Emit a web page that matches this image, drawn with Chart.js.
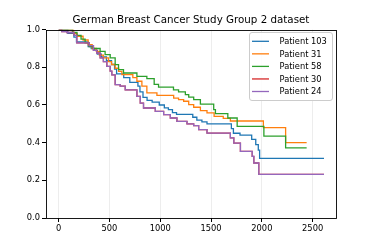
<!DOCTYPE html>
<html>
<head>
<meta charset="utf-8">
<script src="https://cdn.jsdelivr.net/npm/chart.js@4"></script>
<style>
  html, body { margin: 0; padding: 0; background: #fff; }
  #wrap { width: 374px; height: 249px; }
</style>
</head>
<body>
<div id="wrap"><canvas id="kmChart" width="374" height="249"></canvas></div>
<script>
// survival curves (time in days, survival probability)
var p103Time = [0, 90, 150, 175, 290, 320, 350, 380, 420, 470, 520, 550, 570, 640, 700, 780, 800, 830, 870, 920, 990, 1040, 1080, 1120, 1160, 1320, 1360, 1410, 1460, 1700, 1720, 1785, 1900, 1940, 1965, 1978, 2612];
var p103Surv = [1.0, 0.98, 0.96, 0.935, 0.91, 0.90, 0.89, 0.87, 0.855, 0.835, 0.815, 0.79, 0.765, 0.745, 0.72, 0.70, 0.67, 0.64, 0.625, 0.615, 0.60, 0.585, 0.575, 0.56, 0.55, 0.535, 0.52, 0.51, 0.50, 0.475, 0.45, 0.44, 0.417, 0.39, 0.36, 0.317, 0.317];

var p31Time = [0, 145, 180, 240, 290, 330, 370, 400, 440, 490, 520, 556, 590, 622, 730, 770, 819, 868, 967, 1132, 1180, 1230, 1280, 1329, 1395, 1460, 1530, 1620, 1690, 2015, 2234, 2441];
var p31Surv = [1.0, 0.98, 0.965, 0.945, 0.92, 0.90, 0.885, 0.865, 0.85, 0.83, 0.815, 0.795, 0.779, 0.761, 0.745, 0.726, 0.70, 0.664, 0.651, 0.637, 0.628, 0.62, 0.602, 0.588, 0.57, 0.558, 0.54, 0.529, 0.515, 0.48, 0.40, 0.40];

var p58Time = [0, 135, 180, 220, 260, 300, 340, 408, 457, 507, 556, 589, 638, 770, 868, 940, 983, 1130, 1180, 1247, 1280, 1329, 1395, 1526, 1543, 1665, 1757, 2020, 2234, 2441];
var p58Surv = [1.0, 0.985, 0.97, 0.95, 0.93, 0.91, 0.90, 0.885, 0.867, 0.85, 0.814, 0.788, 0.77, 0.752, 0.74, 0.71, 0.695, 0.68, 0.67, 0.655, 0.642, 0.628, 0.605, 0.575, 0.554, 0.531, 0.487, 0.435, 0.372, 0.372];

var p24Time = [0, 30, 80, 150, 178, 300, 342, 375, 408, 440, 474, 507, 523, 556, 605, 655, 770, 803, 835, 951, 1033, 1099, 1164, 1263, 1329, 1378, 1460, 1690, 1724, 1789, 1905, 1921, 1970, 2612];
var p24Surv = [1.0, 0.99, 0.985, 0.97, 0.93, 0.915, 0.89, 0.876, 0.85, 0.83, 0.805, 0.78, 0.76, 0.708, 0.70, 0.68, 0.646, 0.61, 0.584, 0.566, 0.549, 0.531, 0.513, 0.50, 0.49, 0.469, 0.451, 0.425, 0.398, 0.354, 0.327, 0.292, 0.232, 0.232];

// patient 30 is not visible in the picture: it sits under patient 24
var p30Time = [0, 30, 80, 150, 178, 300, 342, 375, 408, 440, 474, 507, 523, 556, 605, 655, 770, 803, 835, 951, 1033, 1099, 1164, 1263, 1329, 1378, 1460, 1690, 1724, 1789, 1905, 1921, 1970, 2612];
var p30Surv = [1.0, 0.99, 0.985, 0.97, 0.93, 0.915, 0.89, 0.876, 0.85, 0.83, 0.805, 0.78, 0.76, 0.708, 0.70, 0.68, 0.646, 0.61, 0.584, 0.566, 0.549, 0.531, 0.513, 0.50, 0.49, 0.469, 0.451, 0.425, 0.398, 0.354, 0.327, 0.292, 0.232, 0.232];

var seriesNames = ["Patient 103", "Patient 31", "Patient 58", "Patient 30", "Patient 24"];
var seriesColors = ["#1f77b4", "#ff7f0e", "#2ca02c", "#d62728", "#9467bd"];
var xTicks = [0, 500, 1000, 1500, 2000, 2500];
var yTicks = [0.0, 0.2, 0.4, 0.6, 0.8, 1.0];

var FONT = "'DejaVu Sans', sans-serif";

function toPoints(times, surv) {
    var pts = [];
    for (var i = 0; i < times.length; i++) {
        pts.push({x: times[i], y: surv[i]});
    }
    return pts;
}

var allTimes = [p103Time, p31Time, p58Time, p30Time, p24Time];
var allSurv = [p103Surv, p31Surv, p58Surv, p30Surv, p24Surv];

var datasets = [];
for (var k = 0; k < seriesNames.length; k++) {
    datasets.push({
        label: seriesNames[k],
        data: toPoints(allTimes[k], allSurv[k]),
        borderColor: seriesColors[k],
        backgroundColor: seriesColors[k],
        borderWidth: 1.3,
        pointRadius: 0,
        stepped: true,
        fill: false,
        order: seriesNames.length - k // later series on top, like matplotlib
    });
}

// frame on all four sides + legend box inside the plot (top right)
var framePlugin = {
    id: "frameAndLegend",
    afterDatasetsDraw: function(chart) {
        var ctx = chart.ctx;
        var a = chart.chartArea;
        ctx.save();
        ctx.strokeStyle = "#000";
        ctx.lineWidth = 0.9;
        ctx.strokeRect(Math.round(a.left) + 0.5, Math.round(a.top) + 0.5,
            Math.round(a.right - a.left), Math.round(a.bottom - a.top));

        // legend
        var bx = 249.5, by = 32.5, bw = 83, bh = 68, r = 2.5;
        ctx.beginPath();
        ctx.moveTo(bx + r, by);
        ctx.lineTo(bx + bw - r, by);
        ctx.arcTo(bx + bw, by, bx + bw, by + r, r);
        ctx.lineTo(bx + bw, by + bh - r);
        ctx.arcTo(bx + bw, by + bh, bx + bw - r, by + bh, r);
        ctx.lineTo(bx + r, by + bh);
        ctx.arcTo(bx, by + bh, bx, by + bh - r, r);
        ctx.lineTo(bx, by + r);
        ctx.arcTo(bx, by, bx + r, by, r);
        ctx.closePath();
        ctx.fillStyle = "rgba(255,255,255,0.85)";
        ctx.fill();
        ctx.strokeStyle = "#cccccc";
        ctx.lineWidth = 1;
        ctx.stroke();

        ctx.font = "8.3px " + FONT;
        ctx.textBaseline = "middle";
        ctx.textAlign = "left";
        for (var i = 0; i < chart.data.datasets.length; i++) {
            var ds = chart.data.datasets[i];
            var yy = 41.3 + i * 12.55;
            ctx.strokeStyle = ds.borderColor;
            ctx.lineWidth = 1.3;
            ctx.beginPath();
            ctx.moveTo(252, yy);
            ctx.lineTo(269, yy);
            ctx.stroke();
            ctx.fillStyle = "#000";
            ctx.fillText(ds.label, 279.5, yy + 0.5);
        }
        ctx.restore();
    }
};

var ctx = document.getElementById("kmChart").getContext("2d");
var chart = new Chart(ctx, {
    type: "line",
    data: { datasets: datasets },
    options: {
        responsive: false,
        animation: false,
        layout: { padding: { left: 0, right: 38, top: 0, bottom: 0 } },
        plugins: {
            legend: { display: false },
            tooltip: { enabled: false },
            title: {
                display: true,
                text: "German Breast Cancer Study Group 2 dataset",
                fullSize: false,
                color: "#000",
                font: { family: FONT, size: 10.3, weight: "normal" },
                padding: { top: 14.3, bottom: 3 }
            }
        },
        scales: {
            x: {
                type: "linear",
                min: -125,
                max: 2730,
                afterBuildTicks: function(scale) {
                    scale.ticks = xTicks.map(function(v) { return {value: v}; });
                },
                afterFit: function(scale) { scale.height = 31; },
                ticks: {
                    color: "#000",
                    font: { family: FONT, size: 8.3 },
                    padding: 2,
                    maxRotation: 0,
                    autoSkip: false,
                    callback: function(v) { return String(v); }
                },
                grid: {
                    color: "rgba(0,0,0,0.07)",
                    tickColor: "#000",
                    tickLength: 4,
                    lineWidth: 1
                },
                border: { display: false }
            },
            y: {
                type: "linear",
                min: 0,
                max: 1,
                afterBuildTicks: function(scale) {
                    scale.ticks = yTicks.map(function(v) { return {value: v}; });
                },
                afterFit: function(scale) { scale.width = 46; },
                ticks: {
                    color: "#000",
                    font: { family: FONT, size: 8.3 },
                    padding: 2,
                    callback: function(v) { return Number(v).toFixed(1); }
                },
                grid: {
                    drawOnChartArea: false,
                    tickColor: "#000",
                    tickLength: 4
                },
                border: { display: false }
            }
        }
    },
    plugins: [framePlugin]
});
</script>
</body>
</html>
